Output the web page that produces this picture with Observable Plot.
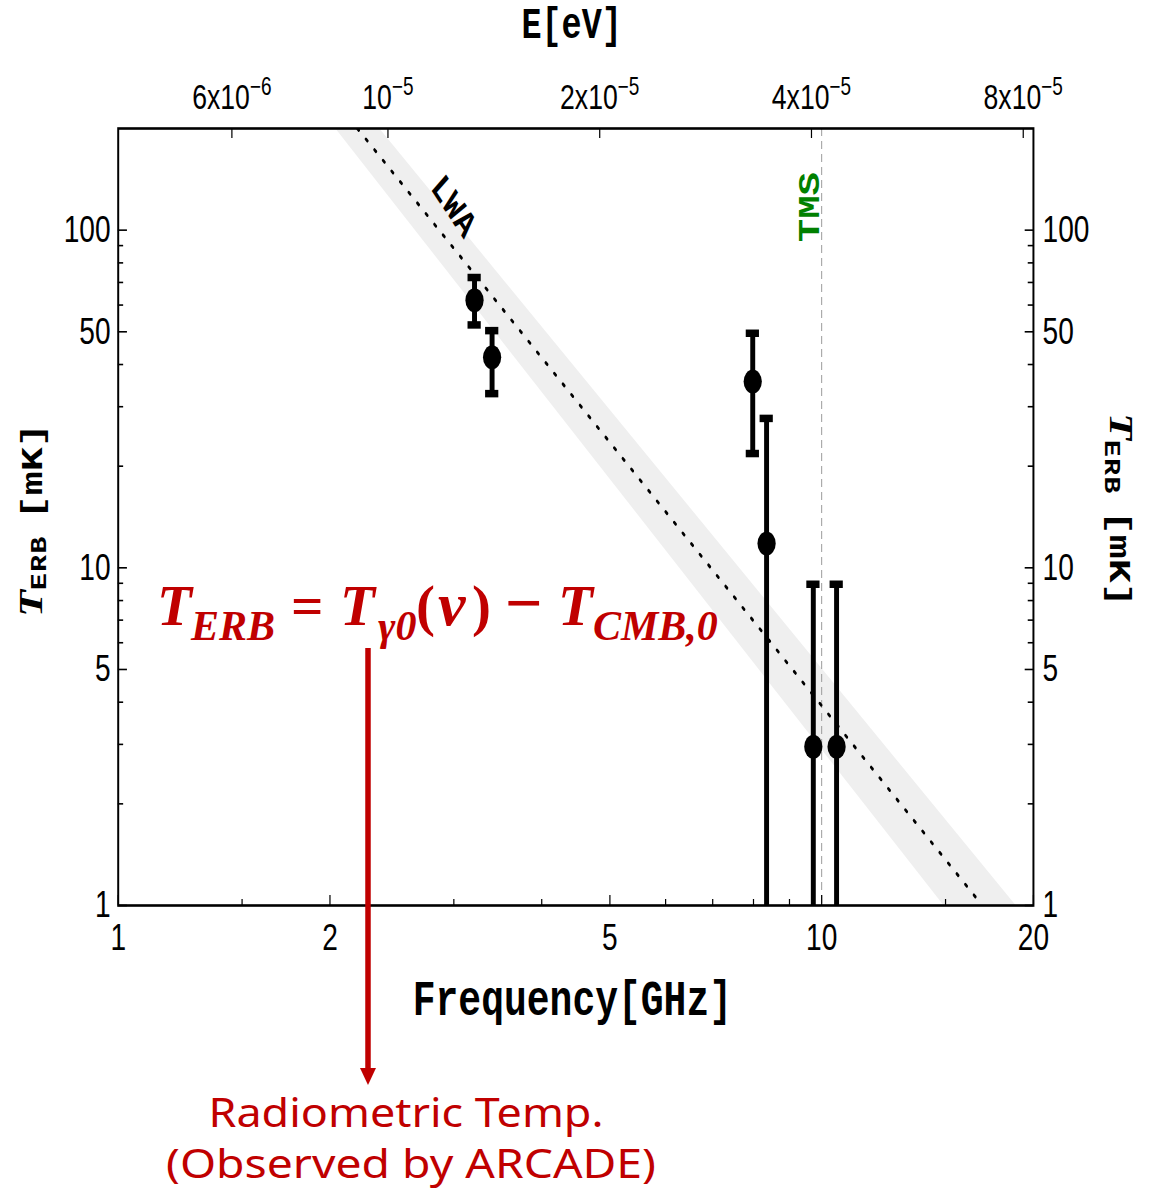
<!DOCTYPE html>
<html>
<head>
<meta charset="utf-8">
<script src="https://cdn.jsdelivr.net/npm/d3@7"></script>
<script src="https://cdn.jsdelivr.net/npm/@observablehq/plot@0.6"></script>
<style>
  body { margin: 0; background: #ffffff; }
  #chart { width: 1160px; height: 1192px; overflow: hidden; }
</style>
</head>
<body>
<div id="chart"></div>
<script>
// ---------------- data ----------------
const freqGHz = [3.21, 3.40, 7.98, 8.35, 9.73, 10.50];
const tempMK  = [62, 42, 35.6, 11.8, 2.95, 2.95];
const errHiMK = [72.4, 50.4, 49.5, 27.7, 8.94, 8.94];
const errLoMK = [52.4, 32.8, 21.8, 1, 1, 1];

// LWA power-law fit (dotted) and its uncertainty band, end points
const lwaFreq = [2.188, 16.92];
const lwaTemp = [200, 1];
const bandLeftFreq  = [2.036, 14.91];
const bandRightFreq = [2.351, 18.88];
const bandTemp = [200, 1];

// TMS marker line
const tmsFreq = [10];

// ticks
const xMajorTicks = [1, 2, 5, 10, 20];
const xMinorTicks = [1.5, 3, 4, 6, 7, 8, 9, 15];
const yMajorTicks = [1, 5, 10, 50, 100];
const yMinorTicks = [2, 3, 4, 6, 7, 8, 9, 20, 30, 40, 60, 70, 80, 90];
const topEnergyTicks  = [6e-6, 1e-5, 2e-5, 4e-5, 8e-5];
const topTickMantissa = ["6x10", "10", "2x10", "4x10", "8x10"];
const topTickExponent = ["\u22126", "\u22125", "\u22125", "\u22125", "\u22125"];
const H_EV_PER_GHZ = 4.135667e-6; // E[eV] = h * nu

// labels inside the plot
const lwaLabel = [{f: 3.0, t: 118, text: "LWA"}];
const tmsLabel = [{f: 9.6, t: 117, text: "TMS"}];

// ---------------- layout ----------------
const W = 1526, HGT = 1192;             // drawn in a horizontally squeezed viewBox
const S = 1160 / W;
const ml = 155, mr = 167, mt = 128, mb = 287;
const FW = W - ml - mr, FH = HGT - mt - mb;
const mono = "'Liberation Mono', 'DejaVu Sans Mono', monospace";
const serif = "'Liberation Serif', 'DejaVu Serif', serif";

const points = freqGHz.map((f, i) => ({f, t: tempMK[i], hi: errHiMK[i], lo: errLoMK[i]}));
const band = bandTemp.map((t, i) => ({xl: bandLeftFreq[i], xr: bandRightFreq[i], t}));
const lwa = lwaFreq.map((f, i) => ({f, t: lwaTemp[i]}));
const topFreqs = topEnergyTicks.map(e => e / H_EV_PER_GHZ);

const capOpts = {x1: "f", x2: "f", insetLeft: -8.7, insetRight: -8.7, stroke: "black", strokeWidth: 7.5};

const plot = Plot.plot({
  width: W, height: HGT,
  marginLeft: ml, marginRight: mr, marginTop: mt, marginBottom: mb,
  style: {background: "white", fontFamily: "'Liberation Sans', Arial, sans-serif", color: "black"},
  x: {type: "log", domain: [1, 20]},
  y: {type: "log", domain: [1, 200]},
  marks: [
    Plot.area(band, {x1: "xl", y1: "t", x2: "xr", y2: "t", fill: "#efefef", clip: true}),
    Plot.ruleX(tmsFreq, {x: d => d, stroke: "#9a9a9a", strokeWidth: 1.3, strokeDasharray: "8,5"}),
    Plot.line(lwa, {x: "f", y: "t", stroke: "black", strokeWidth: 3.2, strokeDasharray: "2.5,13", clip: true}),
    Plot.ruleX(points, {x: "f", y1: "lo", y2: "hi", stroke: "black", strokeWidth: 6.5, clip: true}),
    Plot.ruleY(points, {y: "hi", ...capOpts}),
    Plot.ruleY(points.filter(d => d.lo > 1), {y: "lo", ...capOpts}),
    Plot.dot(points, {x: "f", y: "t", r: 12, fill: "black"}),
    Plot.text(lwaLabel, {x: "f", y: "t", text: "text", rotate: 49, fontSize: 38, fontWeight: "bold", fontFamily: mono, fill: "black"}),
    Plot.text(tmsLabel, {x: "f", y: "t", text: "text", rotate: -90, fontSize: 39, fontWeight: "bold", fontFamily: mono, fill: "#008000"}),
    // inward ticks
    Plot.tickX(xMajorTicks, {x: d => d, insetTop: FH - 10, strokeWidth: 1.6}),
    Plot.tickX(xMinorTicks, {x: d => d, insetTop: FH - 6, strokeWidth: 1.6}),
    Plot.tickX(topFreqs, {x: d => d, insetBottom: FH - 10, strokeWidth: 1.6}),
    Plot.tickY(yMajorTicks, {y: d => d, insetRight: FW - 12, strokeWidth: 1.6}),
    Plot.tickY(yMinorTicks, {y: d => d, insetRight: FW - 7, strokeWidth: 1.6}),
    Plot.tickY(yMajorTicks, {y: d => d, insetLeft: FW - 11, strokeWidth: 1.6}),
    Plot.tickY(yMinorTicks, {y: d => d, insetLeft: FW - 7, strokeWidth: 1.6}),
    // tick labels
    Plot.axisX(xMajorTicks, {anchor: "bottom", tickSize: 0, tickPadding: 18, fontSize: 37, tickFormat: d => String(d), label: null}),
    Plot.axisX(topFreqs, {anchor: "top", tickSize: 0, tickPadding: 20, fontSize: 35,
      tickFormat: d => { const i = topFreqs.indexOf(d); return topTickMantissa[i] + "^" + topTickExponent[i]; }, label: null}),
    Plot.axisY(yMajorTicks, {anchor: "left", tickSize: 0, tickPadding: 10, fontSize: 37, tickFormat: d => String(d), label: null}),
    Plot.axisY(yMajorTicks, {anchor: "right", tickSize: 0, tickPadding: 12, fontSize: 37, tickFormat: d => String(d), label: null}),
    Plot.frame({stroke: "black", strokeWidth: 2.6})
  ]
});

const svg = plot;
svg.setAttribute("width", 1160);
svg.setAttribute("height", HGT);
svg.setAttribute("viewBox", `0 0 ${W} ${HGT}`);
svg.setAttribute("preserveAspectRatio", "none");
svg.style.width = "1160px";
svg.style.height = HGT + "px";
svg.style.maxWidth = "none";

// superscripts on the energy axis
svg.querySelectorAll("text").forEach(t => {
  if (t.textContent.includes("^")) {
    const [a, b] = t.textContent.split("^");
    t.textContent = a;
    const ts = document.createElementNS("http://www.w3.org/2000/svg", "tspan");
    ts.setAttribute("dy", "-14");
    ts.setAttribute("font-size", "25");
    ts.textContent = b;
    t.appendChild(ts);
  }
});

const root = d3.select(svg);

// axis titles
root.append("text").attr("x", 752).attr("y", 38).attr("text-anchor", "middle")
  .attr("font-family", mono).attr("font-weight", "bold").attr("font-size", 44).attr("fill", "black").text("E[eV]");
root.append("text").attr("x", 753).attr("y", 1015).attr("text-anchor", "middle")
  .attr("font-family", mono).attr("font-weight", "bold").attr("font-size", 50).attr("fill", "black").text("Frequency[GHz]");

function yTitle(transform, subDy) {
  const t = root.append("text").attr("transform", transform).attr("text-anchor", "start")
    .attr("font-weight", "bold").attr("fill", "black");
  t.append("tspan").attr("font-family", serif).attr("font-style", "italic").attr("font-size", 44).text("T");
  t.append("tspan").attr("font-family", mono).attr("font-size", 28).attr("letter-spacing", 1.5).attr("dy", subDy).text("ERB");
  t.append("tspan").attr("font-family", mono).attr("font-size", 40).attr("dy", -subDy).attr("dx", 16).text("[mK]");
}
yTitle("translate(55,617) rotate(-90)", 5);
yTitle("translate(1460,413) rotate(90)", 6);

// annotations in plain screen pixels
const g = root.append("g").attr("transform", `scale(${1 / S},1)`);
const red = "#c00000";
const eq = g.append("text").attr("fill", red).attr("font-family", serif).attr("font-weight", "bold")
  .attr("text-anchor", "start");
function part(txt, x, y, size, italic) {
  eq.append("tspan").attr("x", x).attr("y", y).attr("font-size", size)
    .attr("font-style", italic ? "italic" : "normal").text(txt);
}
part("T", 157, 625, 57, true);
part("ERB", 191, 640, 42, true);
part("=", 291, 625, 57, false);
part("T", 340, 625, 57, true);
part("\u03B30", 378, 640, 42, true);
part("(", 416, 625, 57, false);
part("\u03BD", 438, 625, 62, true);
part(")", 472, 625, 57, false);
part("\u2212", 505, 625, 66, false);
part("T", 558, 625, 57, true);
part("CMB,0", 593, 640, 42, true);

g.append("line").attr("x1", 368).attr("y1", 648).attr("x2", 368).attr("y2", 1070)
  .attr("stroke", red).attr("stroke-width", 5.5);
g.append("path").attr("d", "M360,1068 L376,1068 L368,1085 Z").attr("fill", red);

g.append("text").attr("x", 406).attr("y", 1127).attr("text-anchor", "middle")
  .attr("font-family", "'Noto Sans', sans-serif").attr("font-size", 40).attr("fill", red)
  .attr("textLength", 395).attr("lengthAdjust", "spacingAndGlyphs").text("Radiometric Temp.");
g.append("text").attr("x", 411).attr("y", 1178).attr("text-anchor", "middle")
  .attr("font-family", "'Noto Sans', sans-serif").attr("font-size", 40).attr("fill", red)
  .attr("textLength", 490).attr("lengthAdjust", "spacingAndGlyphs").text("(Observed by ARCADE)");

document.getElementById("chart").appendChild(svg);
</script>
</body>
</html>
